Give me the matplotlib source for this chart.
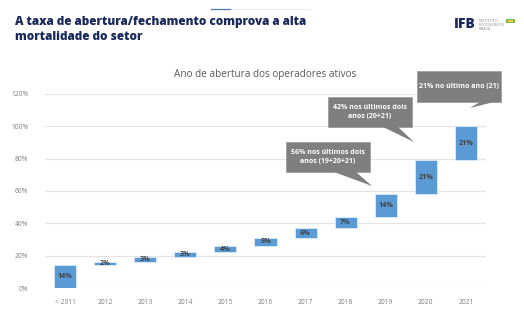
import matplotlib.pyplot as plt
from matplotlib.patches import Polygon
import numpy as np

# dados do gráfico (cascata)
anos = ['< 2011', '2012', '2013', '2014', '2015', '2016', '2017', '2018', '2019', '2020', '2021']
valores = [14, 2, 3, 3, 4, 5, 6, 7, 14, 21, 21]
yticks = [0, 20, 40, 60, 80, 100, 120]
callouts = ['21% no último ano (21)',
            '42% nos últimos dois\nanos (20+21)',
            '56% nos últimos dois\nanos (19+20+21)']

base = np.concatenate([[0], np.cumsum(valores)[:-1]])
x = np.arange(len(anos))

fig = plt.figure(figsize=(5.24, 3.21), dpi=100)
plt.rcParams['font.family'] = ['Open Sans', 'DejaVu Sans']

ax = fig.add_axes([0.0859, 0.1028, 0.8416, 0.6044])
ax.bar(x, valores, bottom=base, width=0.55, color='#5B9BD5', edgecolor='#DDEBF7', linewidth=0.6, zorder=3)
for xi, b, v in zip(x, base, valores):
    ax.text(xi, b + v / 2, f'{v}%', ha='center', va='center', fontsize=5.2,
            color='#404040', fontweight='bold', zorder=4)

ax.set_xlim(-0.5, len(anos) - 0.5)
ax.set_ylim(0, 120)
ax.set_yticks(yticks)
ax.set_yticklabels([f'{t}%' for t in yticks])
ax.set_xticks(x)
ax.set_xticklabels(anos)
ax.tick_params(length=0, labelsize=4.8, labelcolor='#7F7F7F', pad=8)
ax.tick_params(axis='y', pad=12)
ax.grid(axis='y', color='#E4E4E4', linewidth=0.9, zorder=0)
for s in ax.spines.values():
    s.set_visible(False)
ax.set_title('Ano de abertura dos operadores ativos', fontsize=7.2, color='#595959', pad=12)

# camada em pixels para título, logo e balões
ov = fig.add_axes([0, 0, 1, 1], zorder=5)
ov.set_xlim(0, 524)
ov.set_ylim(321, 0)
ov.axis('off')
ov.patch.set_alpha(0)

ov.text(15, 22, 'A taxa de abertura/fechamento comprova a alta', fontsize=8.5,
        fontweight='heavy', color='#1B2A5C', va='center')
ov.text(15, 37, 'mortalidade do setor', fontsize=8.5, fontweight='heavy', color='#1B2A5C', va='center')
ov.plot([211, 231], [9, 9], color='#4A78B5', lw=0.9)
ov.plot([231, 310], [9, 9], color='#E6E6E6', lw=0.6)

# logo
ov.text(454, 24, 'IFB', fontsize=10, fontweight='heavy', color='#1B2A5C', va='center')
ov.text(479, 25, 'INSTITUTO\nFOODSERVICE\nBRASIL', fontsize=2.9, color='#8C8C8C', va='center', linespacing=1.0)
ov.add_patch(Polygon([[506, 19], [515, 19], [515, 23], [506, 23]], closed=True, color='#7DB84A', lw=0))
ov.add_patch(Polygon([[508, 20], [513, 20], [513, 22], [508, 22]], closed=True, color='#F2C94C', lw=0))

# balões
caixas = [
    ((417, 71, 501, 102), [(480, 102), (494, 102), (470, 108)]),
    ((328, 97, 412, 127), [(383, 127), (398, 127), (414, 142)]),
    ((286, 142, 370, 172), [(334, 172), (356, 172), (372, 186)]),
]
for txt, ((x0, y0, x1, y1), tail) in zip(callouts, caixas):
    ov.add_patch(Polygon([[x0, y0], [x1, y0], [x1, y1], [x0, y1]], closed=True,
                         facecolor='#7F7F7F', edgecolor='#9A9A9A', lw=0.5))
    ov.add_patch(Polygon(tail, closed=True, facecolor='#7F7F7F', lw=0))
    ov.text((x0 + x1) / 2, (y0 + y1) / 2, txt, ha='center', va='center', fontsize=5,
            fontweight='bold', color='white', linespacing=1.5)

fig.savefig('out.png', dpi=100)
